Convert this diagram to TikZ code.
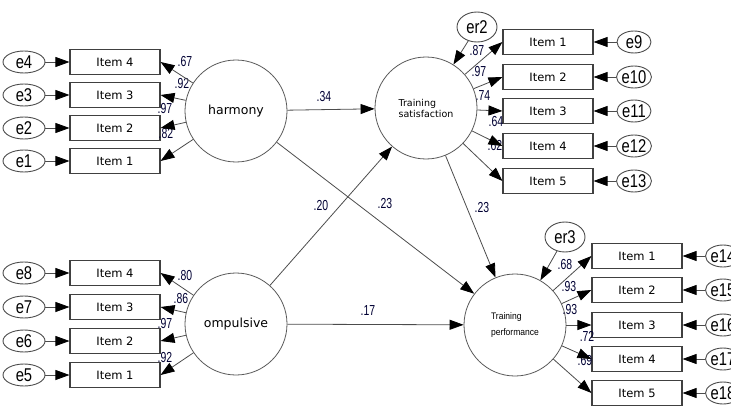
\documentclass[tikz,border=0pt]{standalone}
\usepackage{fontspec}
\setmainfont{DejaVu Sans}
\newfontfamily\narrowfont[FakeStretch=0.72]{Liberation Sans}
\newfontfamily\errfont[FakeStretch=0.8]{Liberation Sans}
\newfontfamily\perffont[FakeStretch=0.9]{Liberation Sans}
\usetikzlibrary{shapes.geometric,arrows.meta}

\tikzset{
  itembox/.style={draw=black!75, line width=1.1pt, minimum width=90pt, minimum height=25pt,
    inner sep=0pt, font=\fontsize{11.5}{12}\selectfont},
  errnode/.style={ellipse, draw=black!70, line width=0.9pt, minimum width=42pt, minimum height=22pt,
    inner sep=0pt, font=\errfont\fontsize{18.5}{18}\selectfont},
  latent/.style={circle, draw=black!65, line width=0.8pt, minimum size=102pt, inner sep=0pt},
  conn/.style={draw=black!70, line width=0.8pt, -{Triangle[length=14pt,width=10pt,black]}},
  coef/.style={font=\narrowfont\fontsize{14.5}{14}\selectfont, text=black!80!blue, inner sep=0pt},
}

\begin{document}
\begin{tikzpicture}[x=1pt, y=-1pt]
  \useasboundingbox (0,0) rectangle (731,412);

  % Draw latent variables
  \node[latent, font=\fontsize{12.5}{14}\selectfont] (harm) at (236,111) {harmony};
  \node[latent, font=\fontsize{12.5}{14}\selectfont] (comp) at (236,324) {ompulsive};
  \node[latent, font=\fontsize{9.5}{11}\selectfont, align=left] (sat) at (426,108) {Training\\satisfaction};
  \node[latent, font=\perffont\fontsize{9.5}{16}\selectfont, align=left] (perf) at (515,325) {Training\\performance};

  % Draw disturbances
  \node[errnode, minimum width=40pt, minimum height=30pt] (er2) at (477,27) {er2};
  \node[errnode, minimum width=40pt, minimum height=30pt] (er3) at (565,237) {er3};

  % Draw indicators
  \foreach \i/\y/\e in {4/62/4, 3/95/3, 2/128/2, 1/161/1} {
    \node[itembox] (h\i) at (115,\y) {Item \i};
    \node[errnode] (eh\i) at (24,\y) {e\e};
  }
  \foreach \i/\y/\e in {4/273/8, 3/307/7, 2/341/6, 1/375/5} {
    \node[itembox] (c\i) at (115,\y) {Item \i};
    \node[errnode] (ec\i) at (24,\y) {e\e};
  }
  \foreach \i/\y/\e in {1/42/9, 2/77/10, 3/111/11, 4/146/12, 5/181/13} {
    \node[itembox] (s\i) at (548,\y) {Item \i};
    \node[errnode, minimum width=34pt] (es\i) at (634,\y) {e\e};
  }
  \foreach \i/\y/\e in {1/256/14, 2/290/15, 3/325/16, 4/359/17, 5/393/18} {
    \node[itembox] (p\i) at (637,\y) {Item \i};
    \node[errnode, minimum width=34pt] (ep\i) at (723,\y) {e\e};
  }

  % Draw coefficients
  \node[coef] at (185,62) {.67};
  \node[coef] at (182,84) {.92};
  \node[coef] at (165,109) {.97};
  \node[coef] at (166,134) {.82};
  \node[coef] at (185,276) {.80};
  \node[coef] at (181,299) {.86};
  \node[coef] at (165,324) {.97};
  \node[coef] at (165,358) {.92};
  \node[coef] at (324,97) {.34};
  \node[coef] at (321,206) {.20};
  \node[coef] at (385,204) {.23};
  \node[coef] at (368,311) {.17};
  \node[coef] at (482,208) {.23};
  \node[coef] at (477,51) {.87};
  \node[coef] at (479,72) {.97};
  \node[coef] at (483,96) {.74};
  \node[coef] at (496,122) {.64};
  \node[coef] at (495,146) {.62};
  \node[coef] at (565,265) {.68};
  \node[coef] at (569,287) {.93};
  \node[coef] at (570,310) {.93};
  \node[coef] at (587,336) {.72};
  \node[coef] at (585,361) {.69};

  % Draw loadings and errors
  \foreach \i in {1,...,4} {
    \draw[conn] (eh\i) -- (h\i);
    \draw[conn] (harm) -- (h\i.east);
    \draw[conn] (ec\i) -- (c\i);
    \draw[conn] (comp) -- (c\i.east);
  }
  \foreach \i in {1,...,5} {
    \draw[conn] (es\i) -- (s\i);
    \draw[conn] (sat) -- (s\i.west);
    \draw[conn] (ep\i) -- (p\i);
    \draw[conn] (perf) -- (p\i.west);
  }
  \draw[conn] (er2) -- (sat);
  \draw[conn] (er3) -- (perf);

  % Draw structural paths
  \draw[conn] (harm) -- (sat);
  \draw[conn] (harm) -- (perf);
  \draw[conn] (comp) -- (sat);
  \draw[conn] (comp) -- (perf);
  \draw[conn] (sat) -- (perf);
\end{tikzpicture}
\end{document}
